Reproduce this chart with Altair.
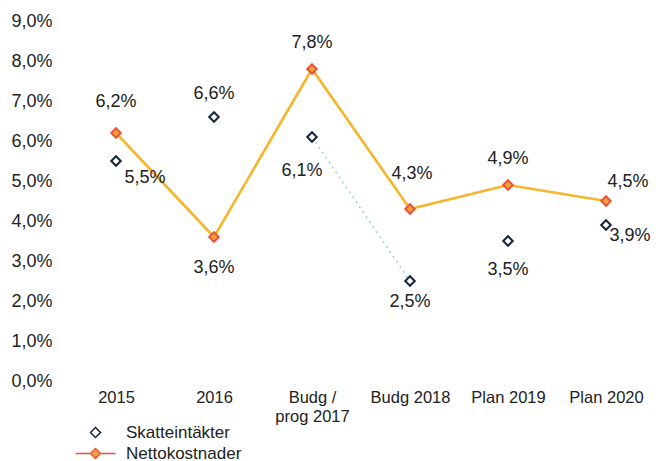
import altair as alt
import pandas as pd

categories = ["2015", "2016", "Budg / prog 2017", "Budg 2018", "Plan 2019", "Plan 2020"]
series_names = ["Skatteintäkter", "Nettokostnader"]
skatt = [5.5, 6.6, 6.1, 2.5, 3.5, 3.9]
netto = [6.2, 3.6, 7.8, 4.3, 4.9, 4.5]
y_ticks = [0, 1, 2, 3, 4, 5, 6, 7, 8, 9]

# label placement (pixels) relative to each point
skatt_dx = [29, 0, -10, 0, 0, 24]
skatt_dy = [17, -23, 34, 21, 29, 11]
netto_dx = [0, 0, 0, 2, 0, 22]
netto_dy = [-31, 31, -26, -35, -26, -19]

PX_PER_UNIT = 40.0  # plot height 360 px for 9 units

rows = []
for i, c in enumerate(categories):
    rows.append(dict(cat=c, series=series_names[0], value=skatt[i], dx=skatt_dx[i], dy=skatt_dy[i], idx=i))
    rows.append(dict(cat=c, series=series_names[1], value=netto[i], dx=netto_dx[i], dy=netto_dy[i], idx=i))
df = pd.DataFrame(rows)

FONT = "Liberation Sans"
TXT = "#222222"

x_enc = alt.X(
    "cat:N", sort=categories, title=None,
    scale=alt.Scale(type="point", padding=0.5),
    axis=alt.Axis(
        domain=False, ticks=False, grid=False, labelAngle=0, labelFontSize=16.5, labelColor=TXT,
        labelPadding=8, labelLineHeight=19, labelFont=FONT, labelBaseline="top",
        labelExpr="datum.value == 'Budg / prog 2017' ? ['Budg /', 'prog 2017'] : datum.value",
    ),
)
y_scale = alt.Scale(domain=[0, 9], nice=False)
y_axis = alt.Axis(
    values=y_ticks, grid=False, domain=False, ticks=False, labelFontSize=18,
    labelColor=TXT, labelPadding=15, labelFont=FONT, labelOverlap=False,
    labelExpr="replace(format(datum.value, '.1f'), '.', ',') + '%'",
)
y_enc = alt.Y("value:Q", title=None, scale=y_scale, axis=y_axis)

base = alt.Chart(df)

netto_line = base.transform_filter(alt.datum.series == "Nettokostnader").mark_line(
    color="#f6b52a", strokeWidth=2.6
).encode(x=x_enc, y=y_enc, order="idx:Q")

skatt_line = base.transform_filter(
    (alt.datum.series == "Skatteintäkter") & (alt.datum.idx >= 2) & (alt.datum.idx <= 3)
).mark_line(color="#9fcbe6", strokeWidth=1.5, strokeDash=[2, 4]).encode(
    x=x_enc, y=y_enc, order="idx:Q"
)

color_scale = alt.Scale(domain=series_names, range=["#15263d", "#e8553a"])
fill_scale = alt.Scale(domain=series_names, range=["#ffffff", "#f6a03a"])
shape_scale = alt.Scale(
    domain=series_names,
    range=[
        "M0,-1L1,0L0,1L-1,0Z",
        "M-4,0L-1,0M1,0L4,0M0,-1L1,0L0,1L-1,0Z",
    ],
)

leg = alt.Legend(
    title=None, orient="none", legendX=20, legendY=403, labelFontSize=17,
    labelFont=FONT, labelColor=TXT, rowPadding=3, padding=0, labelOffset=22,
)

color_enc = alt.Color("series:N", scale=color_scale, legend=leg)
fill_enc = alt.Fill("series:N", scale=fill_scale, legend=leg)

points = base.mark_point(shape="diamond", filled=False, size=90, strokeWidth=2, opacity=1).encode(
    x=x_enc, y=y_enc, color=color_enc, fill=fill_enc,
)

legend_layer = base.transform_filter("false").mark_point(size=55, strokeWidth=2, opacity=1).encode(
    x=x_enc, y=y_enc, color=color_enc, fill=fill_enc,
    shape=alt.Shape("series:N", scale=shape_scale, legend=leg),
)

labels = base.transform_calculate(
    label="replace(format(datum.value, '.1f'), '.', ',') + '%'",
    ly=f"datum.value - datum.dy / {PX_PER_UNIT}",
).mark_text(fontSize=18, font=FONT, color=TXT).encode(
    x=x_enc,
    y=alt.Y("ly:Q", title=None, scale=y_scale, axis=y_axis),
    xOffset=alt.XOffset("dx:Q", scale=None),
    text="label:N",
)

chart = alt.layer(skatt_line, netto_line, points, labels, legend_layer).properties(
    width=588, height=360,
    autosize=alt.AutoSizeParams(type="none"),
    padding={"left": 59, "top": 13, "right": 2, "bottom": 92},
).configure(font=FONT).configure_view(strokeWidth=0, stroke=None)

chart.save("out.html", embed_options={"renderer": "svg", "actions": False})
